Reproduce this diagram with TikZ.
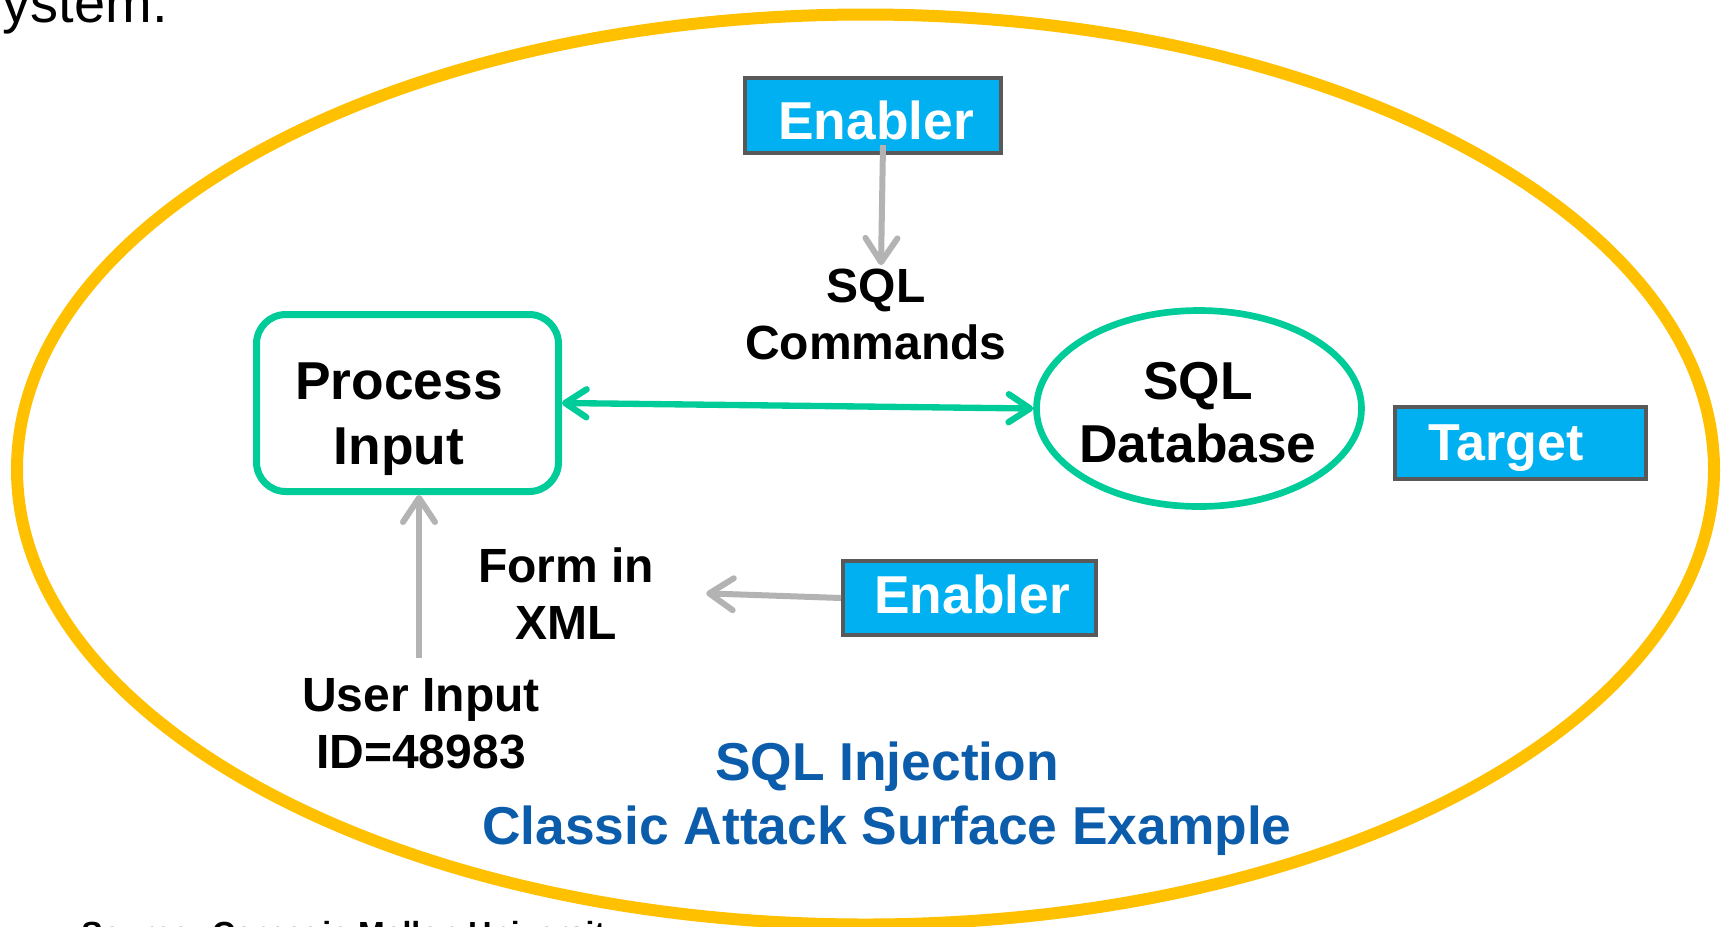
\documentclass[tikz,border=0pt]{standalone}
\usepackage{fontspec}
\setmainfont{Liberation Sans}
\usetikzlibrary{arrows.meta,shapes.geometric}
\definecolor{surfyellow}{HTML}{FFC000}
\definecolor{flowgreen}{HTML}{00CC99}
\definecolor{tagblue}{HTML}{00B0F0}
\definecolor{tagborder}{HTML}{595959}
\definecolor{arrowgray}{HTML}{B3B3B3}
\definecolor{titleblue}{HTML}{0B5CAB}
\tikzset{
  lbl/.style={inner sep=0pt, align=center, text=black},
  tagbox/.style={draw=tagborder, line width=3pt, fill=tagblue, text=white, inner sep=0pt,
    font=\fontsize{40}{48}\selectfont\bfseries, text depth=0pt},
  procbox/.style={draw=flowgreen, line width=5.25pt, rounded corners=22pt, inner sep=0pt},
  dbshape/.style={draw=flowgreen, line width=5pt, ellipse, inner sep=0pt},
  grayarrow/.style={draw=arrowgray, line width=4.5pt,
    -{Straight Barb[round, length=18pt, width=24pt]}},
  greenarrow/.style={draw=flowgreen, line width=4.75pt,
    {Straight Barb[round, length=16pt, width=21pt]}-{Straight Barb[round, length=16pt, width=21pt]}},
}
\begin{document}
\begin{tikzpicture}[x=0.75pt, y=-0.75pt]
\useasboundingbox (0,0) rectangle (1726,926);
\fill[white] (0,0) rectangle (1726,926);

% attack surface
\node[draw=surfyellow, line width=9pt, ellipse, inner sep=0pt,
  minimum width=1272.75pt, minimum height=682.5pt] (surface) at (865.5,469.5) {};

% cropped texts at the edges
\node[inner sep=0pt, anchor=base east, font=\fontsize{42}{50}\selectfont] (sys) at (168,22) {system.};
\node[inner sep=0pt, anchor=base west, font=\fontsize{24}{29}\selectfont\bfseries] (src) at (81,944) {Source: Carnegie Mellon University};

% main shapes
\node[procbox, minimum width=226.5pt, minimum height=132.75pt] (proc) at (407.5,403) {};
\node[lbl, font=\fontsize{40}{48.75}\selectfont\bfseries] (proct) at (399,419) {Process\\Input};

\node[dbshape, minimum width=243.75pt, minimum height=147pt] (db) at (1199,408.5) {};
\node[lbl, font=\fontsize{40}{47.25}\selectfont\bfseries] (dbt) at (1198,412.7) {SQL\\Database};

\node[tagbox, minimum width=192pt, minimum height=56.25pt, text height=35.25pt] (en1) at (873,115.5) {\kern4.5pt Enabler};
\node[tagbox, minimum width=189.75pt, minimum height=55.5pt, text height=23.25pt] (en2) at (969.5,598) {\kern3.75pt Enabler};
\node[tagbox, minimum width=188.25pt, minimum height=54pt, text height=25.5pt, font=\fontsize{39}{47}\selectfont\bfseries] (tgt) at (1520,443) {Target\kern21pt};

% labels
\node[lbl, font=\fontsize{36}{42.75}\selectfont\bfseries] (cmds) at (876,314.5) {SQL\\Commands};
\node[lbl, font=\fontsize{36}{42.75}\selectfont\bfseries] (form) at (566,593.3) {Form in\\XML};
\node[lbl, font=\fontsize{36}{42.75}\selectfont\bfseries] (ui) at (421,723.3) {User Input\\ID=48983};
\node[lbl, text=titleblue, font=\fontsize{40}{48}\selectfont\bfseries] (title) at (887,798.3) {SQL Injection\\Classic Attack Surface Example};

% connectors
\coordinate (uiin) at ([shift={(-2,-20)}]ui.north);
\draw[greenarrow] (proc.east) -- (db.west);
\draw[grayarrow] ([shift={(10,-10)}]en1.south) -- ([shift={(5,-3.6)}]cmds.north);
\draw[grayarrow] (en2.west) -- ([xshift=39]form.east);
\draw[grayarrow] (uiin) -- (uiin |- proc.south);
\end{tikzpicture}
\end{document}
